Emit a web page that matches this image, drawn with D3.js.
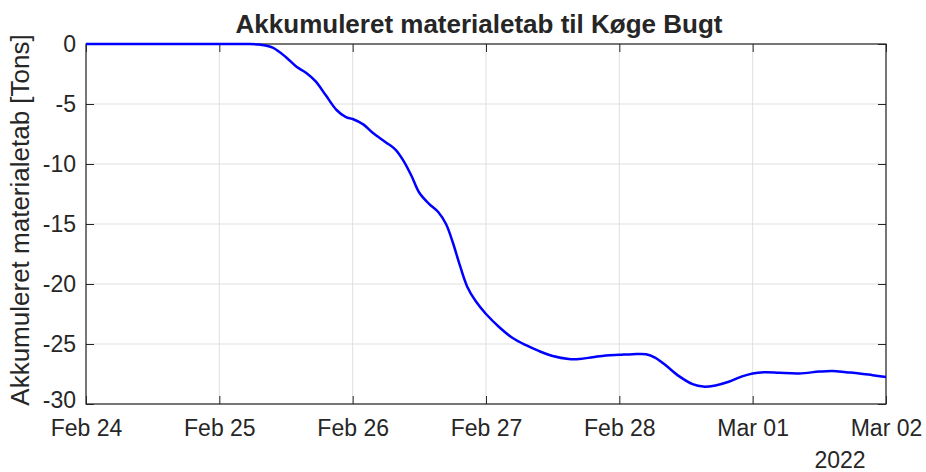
<!DOCTYPE html>
<html>
<head>
<meta charset="utf-8">
<script src="https://cdn.jsdelivr.net/npm/d3@7"></script>
<style>
  body { margin: 0; background: #fff; }
  text { font-family: "Liberation Sans", Arial, sans-serif; fill: #262626; }
</style>
</head>
<body>
<div id="chart"></div>
<script>
// accumulated material loss, hours after 2022-02-24 00:00
const startDate = new Date(2022, 1, 24);
const hours = [
  0, 24, 28.8, 31.2, 33.6, 36, 37.9, 39.6, 41.3, 43.2,
  45.1, 46.8, 48, 49.9, 51.6, 54, 55.7, 57.1, 58.6, 60,
  61.7, 63.4, 64.8, 66, 67.2, 68.6, 70.1, 72, 74.4, 76.8,
  79.2, 81.6, 84, 86.9, 88.8, 91.2, 93.6, 96, 98.4, 100.8,
  102.5, 104.4, 106.8, 109.2, 111.1, 113.3, 115.7, 118.1, 120, 122.4,
  124.8, 128.4, 132, 134.4, 136.8, 139.2, 141.6, 144
];
const lossTons = [
  0, 0, 0, -0.05, -0.3, -1.1, -1.9, -2.4, -3.1, -4.3,
  -5.5, -6.1, -6.25, -6.7, -7.4, -8.2, -8.8, -9.7, -11.0, -12.4,
  -13.3, -14.0, -15.0, -16.5, -18.3, -20.2, -21.4, -22.5, -23.6, -24.5,
  -25.1, -25.6, -26.0, -26.25, -26.25, -26.1, -25.95, -25.9, -25.85, -25.85,
  -26.15, -26.8, -27.7, -28.35, -28.55, -28.45, -28.15, -27.7, -27.45, -27.35,
  -27.4, -27.45, -27.3, -27.25, -27.35, -27.45, -27.6, -27.75
];
const yTicks = [0, -5, -10, -15, -20, -25, -30];
const xTickLabels = ["Feb 24", "Feb 25", "Feb 26", "Feb 27", "Feb 28", "Mar 01", "Mar 02"];

const W = 926, H = 472;
const margin = { top: 44, right: 40, bottom: 68, left: 86 };
const width = W - margin.left - margin.right;
const height = H - margin.top - margin.bottom;

const data = hours.map((h, i) => ({
  t: new Date(startDate.getTime() + h * 3600 * 1000),
  v: lossTons[i]
}));
const xTicks = xTickLabels.map((d, i) => d3.timeDay.offset(startDate, i));

const svg = d3.select("#chart").append("svg")
  .attr("width", W).attr("height", H);
const g = svg.append("g").attr("transform", `translate(${margin.left},${margin.top})`);

const x = d3.scaleTime().domain([startDate, d3.timeDay.offset(startDate, 6)]).range([0, width]);
const y = d3.scaleLinear().domain([-30, 0]).range([height, 0]);

// grid
g.append("g").selectAll("line").data(xTicks).join("line")
  .attr("x1", d => x(d)).attr("x2", d => x(d))
  .attr("y1", 0).attr("y2", height)
  .attr("stroke", "#dfdfdf").attr("stroke-width", 1);
g.append("g").selectAll("line").data(yTicks).join("line")
  .attr("y1", d => y(d)).attr("y2", d => y(d))
  .attr("x1", 0).attr("x2", width)
  .attr("stroke", "#dfdfdf").attr("stroke-width", 1);

// axes, MATLAB style ticks pointing inward
const tickLen = 8;
const fmt = (d, i) => xTickLabels[i];

g.append("g").attr("transform", `translate(0,${height})`)
  .call(d3.axisBottom(x).tickValues(xTicks).tickFormat(fmt).tickSizeInner(-tickLen).tickSizeOuter(0).tickPadding(16))
  .call(a => a.select(".domain").remove())
  .selectAll("text").style("font-size", "23px").attr("fill", "#262626");
g.append("g")
  .call(d3.axisTop(x).tickValues(xTicks).tickFormat("").tickSizeInner(-tickLen).tickSizeOuter(0))
  .call(a => a.select(".domain").remove());
g.append("g")
  .call(d3.axisLeft(y).tickValues(yTicks).tickFormat(d => String(d)).tickSizeInner(-tickLen).tickSizeOuter(0).tickPadding(10))
  .call(a => a.select(".domain").remove())
  .selectAll("text").style("font-size", "23px").attr("fill", "#262626")
  .attr("transform", d => d === -30 ? "translate(0,-4)" : null);
g.append("g").attr("transform", `translate(${width},0)`)
  .call(d3.axisRight(y).tickValues(yTicks).tickFormat("").tickSizeInner(-tickLen).tickSizeOuter(0))
  .call(a => a.select(".domain").remove());
g.selectAll(".tick line").attr("stroke", "#262626");

// box
g.append("rect").attr("width", width).attr("height", height)
  .attr("fill", "none").attr("stroke", "#262626").attr("stroke-width", 1.2);

// the series
const line = d3.line().x(d => x(d.t)).y(d => y(d.v)).curve(d3.curveCatmullRom.alpha(0.5));
g.append("path").datum(data)
  .attr("d", line)
  .attr("fill", "none")
  .attr("stroke", "#0000ff")
  .attr("stroke-width", 2.5)
  .attr("stroke-linejoin", "round");

// year label under last tick
g.append("text").attr("x", width - 46).attr("y", height + 64)
  .attr("text-anchor", "middle").style("font-size", "23px").text("2022");

// title
svg.append("text").attr("x", 479).attr("y", 33)
  .attr("text-anchor", "middle")
  .style("font-size", "26px").style("font-weight", "bold").attr("fill", "#000")
  .text("Akkumuleret materialetab til Køge Bugt");

// y label
svg.append("text")
  .attr("transform", `translate(29,${margin.top + height / 2 - 4}) rotate(-90)`)
  .attr("text-anchor", "middle")
  .style("font-size", "26px")
  .text("Akkumuleret materialetab [Tons]");
</script>
</body>
</html>
